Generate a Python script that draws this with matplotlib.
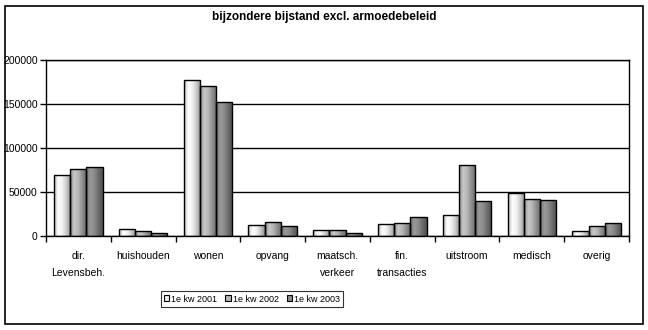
import numpy as np
import matplotlib.pyplot as plt
from matplotlib.colors import LinearSegmentedColormap

categories = ["dir.\nLevensbeh.", "huishouden", "wonen", "opvang", "maatsch.\nverkeer",
              "fin.\ntransacties", "uitstroom", "medisch", "overig"]
series = ["1e kw 2001", "1e kw 2002", "1e kw 2003"]
kw2001 = [69000, 7600, 177000, 12100, 6400, 13600, 23500, 48500, 5300]
kw2002 = [75800, 5300, 170000, 15500, 6400, 14400, 80300, 41700, 11000]
kw2003 = [78000, 3400, 152000, 11000, 3000, 21200, 39400, 40500, 14400]
values = [kw2001, kw2002, kw2003]

# horizontal shading across each bar, one ramp per series
shades = [
    ["#b8b8b8", "#ffffff", "#f0f0f0", "#c8c8c8", "#909090"],
    ["#8c8c8c", "#c8c8c8", "#b4b4b4", "#8c8c8c", "#6a6a6a"],
    ["#707070", "#9a9a9a", "#8a8a8a", "#6a6a6a", "#505050"],
]
cmaps = [LinearSegmentedColormap.from_list(f"s{i}", c) for i, c in enumerate(shades)]
grad = np.linspace(0, 1, 64).reshape(1, -1)

plt.rcParams["font.family"] = ["Liberation Sans", "DejaVu Sans"]
fig = plt.figure(figsize=(6.48, 3.30), dpi=100)
fig.patches.append(plt.Rectangle((5 / 648, 6 / 330), 638 / 648, 318 / 330,
                                 transform=fig.transFigure, fill=False,
                                 edgecolor="black", linewidth=1.2))
ax = fig.add_axes([46 / 648, 94 / 330, 583 / 648, 176 / 330])

x = np.arange(len(categories))
width = 0.25
for i, vals in enumerate(values):
    pos = x + (i - 1) * width
    for p, v in zip(pos, vals):
        ax.imshow(grad, cmap=cmaps[i], aspect="auto", zorder=2,
                  extent=(p - width / 2, p + width / 2, 0, v))
    ax.bar(pos, vals, width, facecolor="none", edgecolor="black",
           linewidth=1.0, zorder=3)

ax.set_xlim(-0.5, len(categories) - 0.5)
ax.set_ylim(0, 200000)
ax.set_yticks([0, 50000, 100000, 150000, 200000])
ax.yaxis.grid(True, color="black", linewidth=1.0)
ax.set_axisbelow(True)
for s in ax.spines.values():
    s.set_linewidth(1.0)

ax.set_xticks(x)
ax.set_xticklabels(categories, fontsize=7.5, linespacing=1.9)
ax.set_xticks(np.arange(-0.5, len(categories)), minor=True)
ax.tick_params(axis="x", which="major", length=0, pad=10.5)
ax.tick_params(axis="x", which="minor", length=4, width=1.0)
ax.tick_params(axis="y", labelsize=7.5, length=4, width=1.0, pad=2)

fig.text(324 / 648, 1 - 17 / 330, "bijzondere bijstand excl. armoedebeleid",
         ha="center", va="center", fontsize=8.5, fontweight="bold")

handles = [plt.Rectangle((0, 0), 1, 1, facecolor=c[2], edgecolor="black", linewidth=0.8)
           for c in shades]
leg = fig.legend(handles, series, loc="center", bbox_to_anchor=(252 / 648, 1 - 299 / 330),
                 ncol=3, fontsize=6.5, frameon=True, fancybox=False, handlelength=0.6,
                 handleheight=0.6, handletextpad=0.2, columnspacing=0.9,
                 borderpad=0.35, borderaxespad=0)
leg.get_frame().set_edgecolor("black")
leg.get_frame().set_linewidth(0.8)

fig.savefig("out.png", dpi=100)
